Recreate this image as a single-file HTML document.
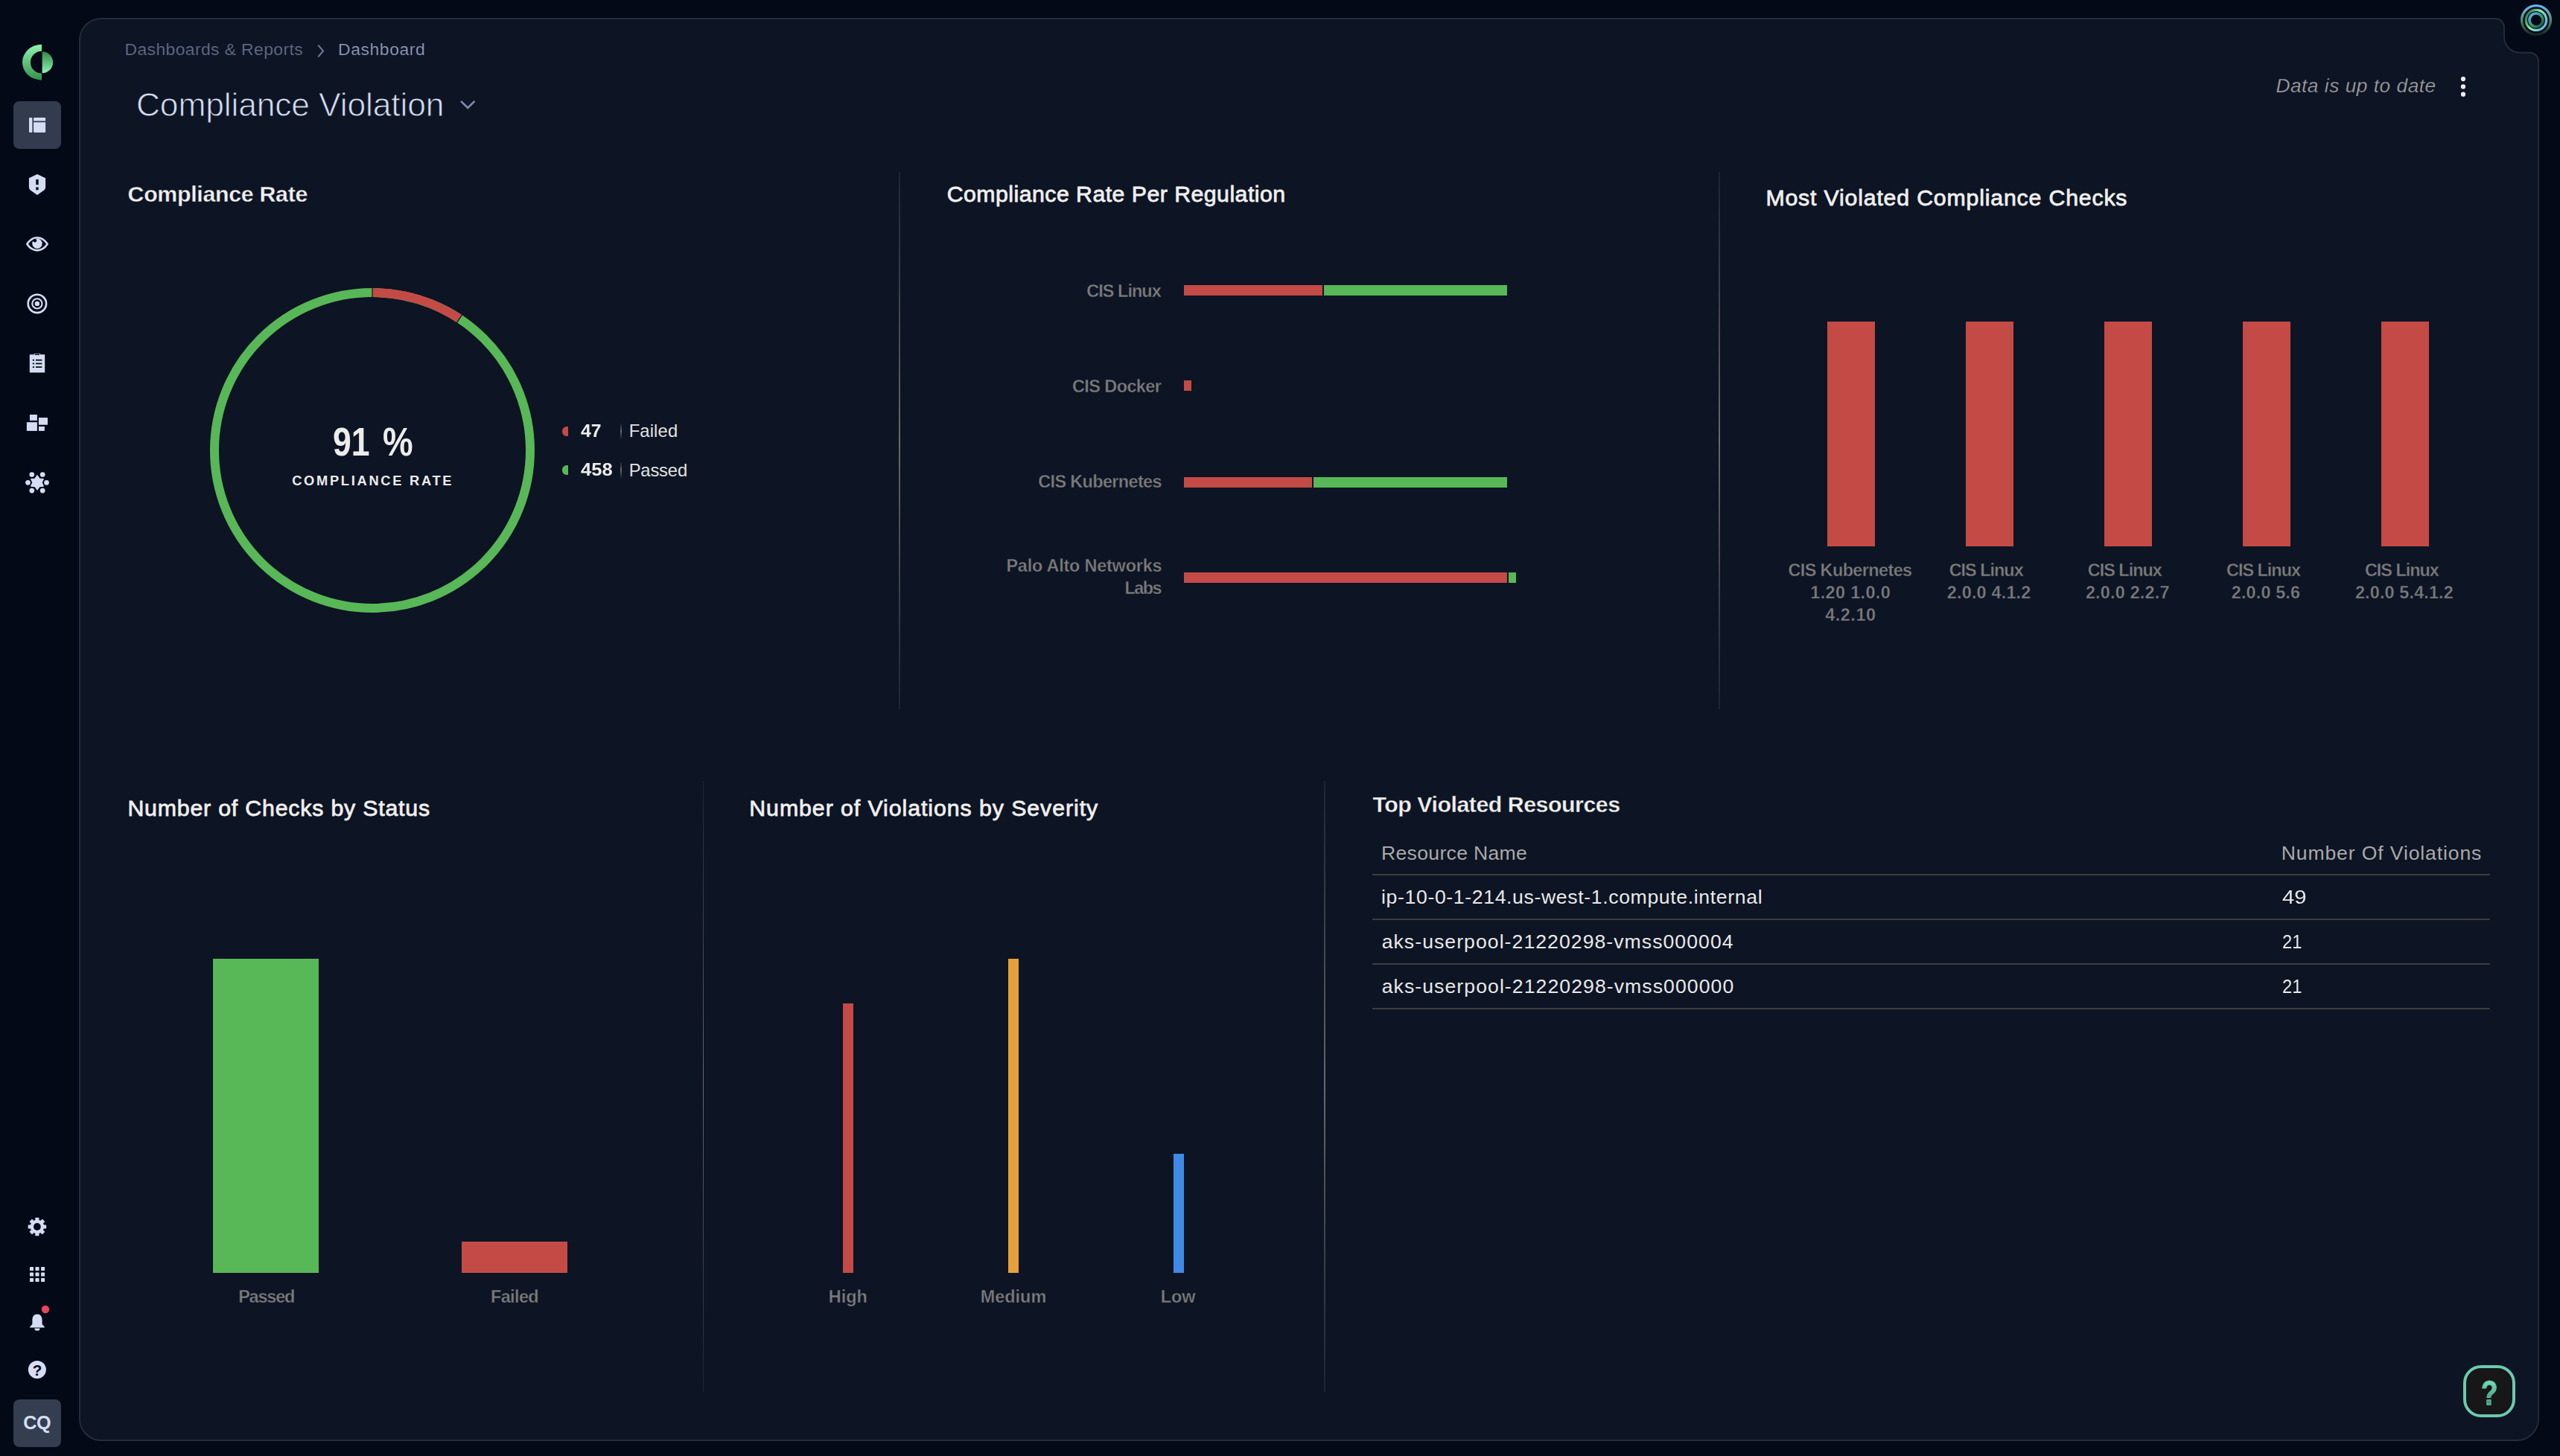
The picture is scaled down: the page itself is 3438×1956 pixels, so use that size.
<!DOCTYPE html>
<html lang="en"><head><meta charset="utf-8"><title>Compliance Violation - Dashboard</title>
<style>
html,body{margin:0;padding:0;}
body{width:3438px;height:1956px;overflow:hidden;position:relative;background:#040917;font-family:"Liberation Sans",Arial,sans-serif;}
.t{position:absolute;white-space:nowrap;margin:0;padding:0;}
.r{position:absolute;}
svg{position:absolute;overflow:visible;}
.abs{position:absolute;}
</style></head><body>
<svg width="3438" height="1956" viewBox="0 0 3438 1956" style="left:0;top:0"><path d="M135.95 25 H3351.7 A11.3 11.3 0 0 1 3363 36.4 V49.5 A21 21 0 0 0 3384 70.7 H3397.55 A11.5 11.5 0 0 1 3409.05 82.2 V1906 A29 29 0 0 1 3380.05 1935 H135.95 A29 29 0 0 1 106.95 1906 V54 A29 29 0 0 1 135.95 25 Z" fill="#0d1424" stroke="#252c3b" stroke-width="1.9"/></svg>
<svg width="110" height="1956" viewBox="0 0 110 1956" style="left:0;top:0"><defs><linearGradient id="lg1" x1="0" y1="0" x2="0" y2="1"><stop offset="0" stop-color="#8df5b0"/><stop offset="1" stop-color="#35914a"/></linearGradient><linearGradient id="lg2" x1="0" y1="0" x2="0" y2="1"><stop offset="0" stop-color="#2f8a45"/><stop offset="1" stop-color="#8df5b0"/></linearGradient></defs><path d="M56 59.7 A26 24 0 0 0 56 107.7 V98.7 A15 15 0 0 1 56 68.7 Z" fill="url(#lg1)"/><path d="M56.6 69.2 A14.5 14.5 0 0 1 56.6 98.2 Z" fill="url(#lg2)"/><rect x="18" y="136" width="64" height="64" rx="8" fill="#333b4e"/><g fill="#d4ddf3"><rect x="39" y="157.9" width="4.4" height="20.1" rx="1.2"/><path d="M46.3 157.9 H59.9 A1.2 1.2 0 0 1 61.1 159.1 V162.5 H45.1 V159.1 A1.2 1.2 0 0 1 46.3 157.9 Z"/><path d="M45.1 164.2 H61.1 V176.8 A1.2 1.2 0 0 1 59.9 178 H46.3 A1.2 1.2 0 0 1 45.1 176.8 Z"/></g><path d="M50 233.9 L61.1 239.3 V251.6 Q61.1 254 59.2 255.4 L50 261.9 L40.8 255.4 Q38.9 254 38.9 251.6 V239.3 Z M48.3 241 V248.3 H51.7 V241 Z M48.3 251.6 V255.3 H51.7 V251.6 Z" fill="#d4ddf3" fill-rule="evenodd"/><path d="M36.3 327.8 C40 322.2 44.5 319.2 50 319.2 S60 322.2 63.7 327.8 C60 333.4 55.5 336.4 50 336.4 S40 333.4 36.3 327.8 Z" fill="none" stroke="#d4ddf3" stroke-width="2.6" stroke-linejoin="round"/><circle cx="50" cy="327.2" r="6.7" fill="#d4ddf3"/><circle cx="46.8" cy="323.2" r="2.4" fill="#040917"/><g fill="none" stroke="#d4ddf3"><circle cx="49.9" cy="407.9" r="12.2" stroke-width="2.6"/><circle cx="49.9" cy="407.9" r="6.6" stroke-width="2.1"/></g><circle cx="49.9" cy="407.9" r="3.2" fill="#d4ddf3"/><path d="M39.8 476.3 H45.9 V475 H54.1 V476.3 H60.2 V500.6 H39.8 Z" fill="#d4ddf3"/><g fill="#040917"><rect x="46.8" y="475.6" width="6.4" height="1.4"/><rect x="43.8" y="482.9" width="2.3" height="1.7"/><rect x="48" y="482.9" width="8.4" height="1.7"/><rect x="43.8" y="487.6" width="2.3" height="1.7"/><rect x="48" y="487.6" width="8.4" height="1.7"/><rect x="43.8" y="492.3" width="2.3" height="1.7"/><rect x="48" y="492.3" width="8.4" height="1.7"/></g><g fill="#d4ddf3"><rect x="40" y="557" width="9.9" height="7.9"/><rect x="52" y="561.1" width="12" height="9.6"/><rect x="35.9" y="567.2" width="14" height="11.7"/><rect x="52" y="573" width="7.9" height="5.9"/></g><polygon points="50.00,638.70 53.05,643.02 58.31,643.50 56.10,648.30 58.31,653.10 53.05,653.58 50.00,657.90 46.95,653.58 41.69,653.10 43.90,648.30 41.69,643.50 46.95,643.02" fill="#d4ddf3" stroke="#d4ddf3" stroke-width="1.2" stroke-linejoin="round"/><circle cx="62.50" cy="648.30" r="3.35" fill="#d4ddf3"/><circle cx="37.50" cy="648.30" r="3.35" fill="#d4ddf3"/><circle cx="57.20" cy="659.10" r="3.35" fill="#d4ddf3"/><circle cx="42.80" cy="659.10" r="3.35" fill="#d4ddf3"/><circle cx="57.20" cy="637.50" r="3.35" fill="#d4ddf3"/><circle cx="42.80" cy="637.50" r="3.35" fill="#d4ddf3"/><polygon points="47.90,1639.64 47.96,1636.36 51.84,1636.36 51.90,1639.64 54.40,1640.67 56.76,1638.40 59.50,1641.14 57.23,1643.50 58.26,1646.00 61.54,1646.06 61.54,1649.94 58.26,1650.00 57.23,1652.50 59.50,1654.86 56.76,1657.60 54.40,1655.33 51.90,1656.36 51.84,1659.64 47.96,1659.64 47.90,1656.36 45.40,1655.33 43.04,1657.60 40.30,1654.86 42.57,1652.50 41.54,1650.00 38.26,1649.94 38.26,1646.06 41.54,1646.00 42.57,1643.50 40.30,1641.14 43.04,1638.40 45.40,1640.67" fill="#d4ddf3" stroke="#d4ddf3" stroke-width="1.2" stroke-linejoin="round"/><circle cx="49.9" cy="1648" r="8.9" fill="#d4ddf3"/><circle cx="49.9" cy="1648" r="4.9" fill="#040917"/><g fill="#d4ddf3"><rect x="40.0" y="1702.0" width="5" height="5" rx="0.6"/><rect x="47.5" y="1702.0" width="5" height="5" rx="0.6"/><rect x="55.1" y="1702.0" width="5" height="5" rx="0.6"/><rect x="40.0" y="1709.5" width="5" height="5" rx="0.6"/><rect x="47.5" y="1709.5" width="5" height="5" rx="0.6"/><rect x="55.1" y="1709.5" width="5" height="5" rx="0.6"/><rect x="40.0" y="1717.1" width="5" height="5" rx="0.6"/><rect x="47.5" y="1717.1" width="5" height="5" rx="0.6"/><rect x="55.1" y="1717.1" width="5" height="5" rx="0.6"/></g><path d="M50 1765.4 C45.6 1765.4 43.4 1768.8 43.4 1773.2 V1779 L40.2 1782.4 V1783.6 H59.8 V1782.4 L56.6 1779 V1773.2 C56.6 1768.8 54.4 1765.4 50 1765.4 Z M46.4 1784.6 A3.6 3.2 0 0 0 53.6 1784.6 Z" fill="#d4ddf3"/><circle cx="61" cy="1759" r="5.2" fill="#e8455a"/><circle cx="49.9" cy="1840" r="12" fill="#d4ddf3"/><rect x="18" y="1880" width="64" height="64" rx="8" fill="#343e50"/></svg>
<div class="t" style="left:43.76px;top:1827.99px;font-size:20.50px;line-height:25px;color:#040917;font-weight:700;">?</div>
<div class="t" style="left:31.27px;top:1896.26px;font-size:25.20px;line-height:30px;color:#d4ddf3;letter-spacing:-0.408px;font-weight:700;">CQ</div>
<div class="t" style="left:167.52px;top:52.76px;font-size:22.90px;line-height:27px;color:#616d88;letter-spacing:0.397px;-webkit-text-stroke:0.20px #0d1424;">Dashboards &amp; Reports</div>
<svg width="20" height="20" viewBox="0 0 20 20" style="left:420px;top:57px"><path d="M7.3 3.6 L14 11.45 L7.3 19.3" fill="none" stroke="#6f7c99" stroke-width="2"/></svg>
<div class="t" style="left:454.12px;top:52.76px;font-size:22.90px;line-height:27px;color:#909db8;letter-spacing:0.578px;-webkit-text-stroke:0.20px #0d1424;">Dashboard</div>
<div class="t" style="left:182.95px;top:113.51px;font-size:44.40px;line-height:53px;color:#d3dcf3;letter-spacing:-0.146px;-webkit-text-stroke:0.90px #0d1424;">Compliance Violation</div>
<svg width="30" height="20" viewBox="0 0 30 20" style="left:613px;top:130px"><path d="M6 5.8 L15.2 15 L24.4 5.8" fill="none" stroke="#7f8cae" stroke-width="2.6"/></svg>
<div class="t" style="left:3056.39px;top:98.88px;font-size:26.30px;line-height:32px;color:#9d9d9d;letter-spacing:0.514px;font-style:italic;-webkit-text-stroke:0.25px #0d1424;">Data is up to date</div>
<svg width="20" height="40" viewBox="0 0 20 40" style="left:3298px;top:96px"><g fill="#eeeeee"><circle cx="10" cy="10.1" r="3.1"/><circle cx="10" cy="20.4" r="3.1"/><circle cx="10" cy="30.7" r="3.1"/></g></svg>
<svg width="60" height="60" viewBox="-30 -30 60 60" style="left:3376.1px;top:-2.9px">
<defs><linearGradient id="rg1" x1="0" y1="0" x2="0" y2="1"><stop offset="0" stop-color="#6ab4f7"/><stop offset="0.45" stop-color="#4d9c7a"/><stop offset="1" stop-color="#14261f"/></linearGradient>
<linearGradient id="rg2" x1="0" y1="0.2" x2="1" y2="0.8"><stop offset="0" stop-color="#2d6d49"/><stop offset="0.45" stop-color="#86efac"/><stop offset="1" stop-color="#62b2f2"/></linearGradient>
<linearGradient id="rg3" x1="0" y1="0" x2="1" y2="1"><stop offset="0" stop-color="#62b2f2"/><stop offset="0.6" stop-color="#3f8a62"/><stop offset="1" stop-color="#1f4a35"/></linearGradient></defs>
<circle r="19.4" fill="none" stroke="url(#rg1)" stroke-width="3.3"/><circle r="13.7" fill="none" stroke="url(#rg2)" stroke-width="3.3"/><circle r="9" fill="none" stroke="url(#rg3)" stroke-width="3.6"/></svg>
<div class="r" style="left:1207.25px;top:230.50px;width:1.50px;height:722.00px;background:none;background:linear-gradient(to bottom,#1d2535 0%,#3a404b 22%,#6a6a68 50%,#3a404b 78%,#1d2535 100%);"></div>
<div class="r" style="left:2308.25px;top:230.50px;width:1.50px;height:722.00px;background:none;background:linear-gradient(to bottom,#1d2535 0%,#3a404b 22%,#6a6a68 50%,#3a404b 78%,#1d2535 100%);"></div>
<div class="r" style="left:943.65px;top:1049.00px;width:1.50px;height:820.50px;background:none;background:linear-gradient(to bottom,#1d2535 0%,#3a404b 22%,#6a6a68 50%,#3a404b 78%,#1d2535 100%);"></div>
<div class="r" style="left:1778.15px;top:1049.00px;width:1.50px;height:820.50px;background:none;background:linear-gradient(to bottom,#1d2535 0%,#3a404b 22%,#6a6a68 50%,#3a404b 78%,#1d2535 100%);"></div>
<div class="t" style="left:171.56px;top:242.80px;font-size:30.30px;line-height:36px;color:#efefef;letter-spacing:-0.290px;font-weight:700;-webkit-text-stroke:0.30px #0d1424;">Compliance Rate</div>
<svg width="460" height="460" viewBox="270 374.6 460 460" style="left:270px;top:374.6px"><circle cx="500" cy="604.6" r="212" fill="none" stroke="#58b757" stroke-width="12"/><path d="M500 392.6 A212 212 0 0 1 617.01 427.82" fill="none" stroke="#c44a46" stroke-width="12"/><line x1="500.00" y1="399.60" x2="500.00" y2="385.60" stroke="#0d1424" stroke-width="1.2"/><line x1="613.15" y1="433.65" x2="620.87" y2="421.98" stroke="#0d1424" stroke-width="1.2"/></svg>
<div class="t" style="left:447.35px;top:561.76px;font-size:53.20px;line-height:64px;color:#ececec;font-weight:700;transform:scaleX(0.8379);transform-origin:0 0;">91</div>
<div class="t" style="left:514.46px;top:561.76px;font-size:53.20px;line-height:64px;color:#ececec;font-weight:700;transform:scaleX(0.8592);transform-origin:0 0;">%</div>
<div class="t" style="left:392.15px;top:635.16px;font-size:18.30px;line-height:22px;color:#ececec;letter-spacing:2.715px;font-weight:700;">COMPLIANCE RATE</div>
<div class="abs" style="left:754.6px;top:572.8px;width:8.4px;height:12.8px;overflow:hidden"><div style="width:12.8px;height:12.8px;border-radius:50%;background:#c44a46"></div></div>
<div class="t" style="left:779.92px;top:565.09px;font-size:23.40px;line-height:28px;color:#ececec;font-weight:700;transform:scaleX(1.0590);transform-origin:0 0;">47</div>
<div class="r" style="left:833.40px;top:567.70px;width:1.30px;height:23.00px;background:none;background:linear-gradient(to bottom,rgba(110,110,110,0),rgba(110,110,110,.95) 50%,rgba(110,110,110,0));"></div>
<div class="t" style="left:844.65px;top:564.45px;font-size:23.80px;line-height:29px;color:#e2e2e2;letter-spacing:0.132px;">Failed</div>
<div class="abs" style="left:754.6px;top:625.0px;width:8.4px;height:12.8px;overflow:hidden"><div style="width:12.8px;height:12.8px;border-radius:50%;background:#58b757"></div></div>
<div class="t" style="left:779.91px;top:617.29px;font-size:23.40px;line-height:28px;color:#ececec;font-weight:700;transform:scaleX(1.0930);transform-origin:0 0;">458</div>
<div class="r" style="left:833.40px;top:619.90px;width:1.30px;height:23.00px;background:none;background:linear-gradient(to bottom,rgba(110,110,110,0),rgba(110,110,110,.95) 50%,rgba(110,110,110,0));"></div>
<div class="t" style="left:844.65px;top:616.65px;font-size:23.80px;line-height:29px;color:#e2e2e2;letter-spacing:-0.180px;">Passed</div>
<div class="t" style="left:1271.66px;top:243.40px;font-size:30.30px;line-height:36px;color:#efefef;letter-spacing:0.456px;-webkit-text-stroke:0.80px #efefef;">Compliance Rate Per Regulation</div>
<div class="r" style="left:1589.90px;top:382.60px;width:186.40px;height:14.60px;background:#c44a46;"></div>
<div class="r" style="left:1777.80px;top:382.60px;width:246.40px;height:14.60px;background:#58b757;"></div>
<div class="t" style="left:1459.34px;top:376.89px;font-size:23.40px;line-height:28px;color:#7b7b7b;letter-spacing:-0.934px;font-weight:700;-webkit-text-stroke:0.35px #0d1424;">CIS Linux</div>
<div class="r" style="left:1589.90px;top:510.70px;width:10.50px;height:14.60px;background:#c44a46;"></div>
<div class="t" style="left:1439.94px;top:504.89px;font-size:23.40px;line-height:28px;color:#7b7b7b;letter-spacing:-0.538px;font-weight:700;-webkit-text-stroke:0.35px #0d1424;">CIS Docker</div>
<div class="r" style="left:1589.90px;top:640.60px;width:172.30px;height:14.60px;background:#c44a46;"></div>
<div class="r" style="left:1763.90px;top:640.60px;width:260.30px;height:14.60px;background:#58b757;"></div>
<div class="t" style="left:1394.24px;top:632.89px;font-size:23.40px;line-height:28px;color:#7b7b7b;letter-spacing:-0.610px;font-weight:700;-webkit-text-stroke:0.35px #0d1424;">CIS Kubernetes</div>
<div class="r" style="left:1589.90px;top:768.70px;width:434.30px;height:14.60px;background:#c44a46;"></div>
<div class="r" style="left:2025.90px;top:768.70px;width:10.10px;height:14.60px;background:#58b757;"></div>
<div class="t" style="left:1351.43px;top:746.19px;font-size:23.40px;line-height:28px;color:#7b7b7b;letter-spacing:-0.191px;font-weight:700;-webkit-text-stroke:0.35px #0d1424;">Palo Alto Networks</div>
<div class="t" style="left:1510.53px;top:776.19px;font-size:23.40px;line-height:28px;color:#7b7b7b;letter-spacing:-1.531px;font-weight:700;-webkit-text-stroke:0.35px #0d1424;">Labs</div>
<div class="t" style="left:2371.41px;top:247.80px;font-size:30.30px;line-height:36px;color:#efefef;letter-spacing:0.809px;-webkit-text-stroke:0.80px #efefef;">Most Violated Compliance Checks</div>
<div class="r" style="left:2453.80px;top:431.90px;width:64.20px;height:302.10px;background:#c44a46;"></div>
<div class="t" style="left:2401.44px;top:752.19px;font-size:23.40px;line-height:28px;color:#7b7b7b;letter-spacing:-0.579px;font-weight:700;-webkit-text-stroke:0.35px #0d1424;">CIS Kubernetes</div>
<div class="t" style="left:2431.33px;top:782.09px;font-size:23.40px;line-height:28px;color:#7b7b7b;letter-spacing:0.372px;font-weight:700;-webkit-text-stroke:0.35px #0d1424;">1.20 1.0.0</div>
<div class="t" style="left:2451.25px;top:811.99px;font-size:23.40px;line-height:28px;color:#7b7b7b;letter-spacing:0.531px;font-weight:700;-webkit-text-stroke:0.35px #0d1424;">4.2.10</div>
<div class="r" style="left:2639.80px;top:431.90px;width:64.20px;height:302.10px;background:#c44a46;"></div>
<div class="t" style="left:2617.69px;top:752.19px;font-size:23.40px;line-height:28px;color:#7b7b7b;letter-spacing:-0.984px;font-weight:700;-webkit-text-stroke:0.35px #0d1424;">CIS Linux</div>
<div class="t" style="left:2614.79px;top:782.09px;font-size:23.40px;line-height:28px;color:#7b7b7b;letter-spacing:0.196px;font-weight:700;-webkit-text-stroke:0.35px #0d1424;">2.0.0 4.1.2</div>
<div class="r" style="left:2825.90px;top:431.90px;width:64.20px;height:302.10px;background:#c44a46;"></div>
<div class="t" style="left:2803.79px;top:752.19px;font-size:23.40px;line-height:28px;color:#7b7b7b;letter-spacing:-0.984px;font-weight:700;-webkit-text-stroke:0.35px #0d1424;">CIS Linux</div>
<div class="t" style="left:2800.89px;top:782.09px;font-size:23.40px;line-height:28px;color:#7b7b7b;letter-spacing:0.205px;font-weight:700;-webkit-text-stroke:0.35px #0d1424;">2.0.0 2.2.7</div>
<div class="r" style="left:3012.10px;top:431.90px;width:64.20px;height:302.10px;background:#c44a46;"></div>
<div class="t" style="left:2989.99px;top:752.19px;font-size:23.40px;line-height:28px;color:#7b7b7b;letter-spacing:-0.984px;font-weight:700;-webkit-text-stroke:0.35px #0d1424;">CIS Linux</div>
<div class="t" style="left:2996.84px;top:782.09px;font-size:23.40px;line-height:28px;color:#7b7b7b;letter-spacing:0.135px;font-weight:700;-webkit-text-stroke:0.35px #0d1424;">2.0.0 5.6</div>
<div class="r" style="left:3198.00px;top:431.90px;width:64.20px;height:302.10px;background:#c44a46;"></div>
<div class="t" style="left:3175.89px;top:752.19px;font-size:23.40px;line-height:28px;color:#7b7b7b;letter-spacing:-0.984px;font-weight:700;-webkit-text-stroke:0.35px #0d1424;">CIS Linux</div>
<div class="t" style="left:3162.94px;top:782.09px;font-size:23.40px;line-height:28px;color:#7b7b7b;letter-spacing:0.145px;font-weight:700;-webkit-text-stroke:0.35px #0d1424;">2.0.0 5.4.1.2</div>
<div class="t" style="left:171.41px;top:1068.40px;font-size:30.30px;line-height:36px;color:#efefef;letter-spacing:0.805px;-webkit-text-stroke:0.80px #efefef;">Number of Checks by Status</div>
<div class="r" style="left:285.90px;top:1287.80px;width:142.30px;height:422.20px;background:#58b757;"></div>
<div class="r" style="left:620.00px;top:1667.70px;width:142.00px;height:42.30px;background:#c44a46;"></div>
<div class="t" style="left:320.18px;top:1727.89px;font-size:23.40px;line-height:28px;color:#7b7b7b;letter-spacing:-1.151px;font-weight:700;-webkit-text-stroke:0.35px #0d1424;">Passed</div>
<div class="t" style="left:658.93px;top:1727.89px;font-size:23.40px;line-height:28px;color:#7b7b7b;letter-spacing:-0.582px;font-weight:700;-webkit-text-stroke:0.35px #0d1424;">Failed</div>
<div class="t" style="left:1006.31px;top:1068.40px;font-size:30.30px;line-height:36px;color:#efefef;letter-spacing:0.933px;-webkit-text-stroke:0.80px #efefef;">Number of Violations by Severity</div>
<div class="r" style="left:1131.70px;top:1348.10px;width:14.40px;height:361.90px;background:#c44a46;"></div>
<div class="r" style="left:1354.00px;top:1287.80px;width:14.40px;height:422.20px;background:#e5a03c;"></div>
<div class="r" style="left:1575.80px;top:1549.90px;width:14.40px;height:160.10px;background:#3f8ae6;"></div>
<div class="t" style="left:1112.75px;top:1727.89px;font-size:23.40px;line-height:28px;color:#7b7b7b;font-weight:700;-webkit-text-stroke:0.35px #0d1424;">High</div>
<div class="t" style="left:1316.84px;top:1727.89px;font-size:23.40px;line-height:28px;color:#7b7b7b;font-weight:700;-webkit-text-stroke:0.35px #0d1424;">Medium</div>
<div class="t" style="left:1558.70px;top:1727.89px;font-size:23.40px;line-height:28px;color:#7b7b7b;font-weight:700;-webkit-text-stroke:0.35px #0d1424;">Low</div>
<div class="t" style="left:1843.56px;top:1062.80px;font-size:30.30px;line-height:36px;color:#efefef;letter-spacing:-0.471px;font-weight:700;-webkit-text-stroke:0.30px #0d1424;">Top Violated Resources</div>
<div class="t" style="left:1855.02px;top:1129.88px;font-size:26.60px;line-height:32px;color:#a9a9a9;letter-spacing:0.298px;">Resource Name</div>
<div class="t" style="left:3063.72px;top:1129.98px;font-size:26.60px;line-height:32px;color:#a9a9a9;letter-spacing:0.864px;">Number Of Violations</div>
<div class="r" style="left:1843.20px;top:1174.35px;width:1500.80px;height:1.50px;background:#3d3d3b;"></div>
<div class="r" style="left:1843.20px;top:1234.05px;width:1500.80px;height:1.50px;background:#3d3d3b;"></div>
<div class="r" style="left:1843.20px;top:1294.15px;width:1500.80px;height:1.50px;background:#3d3d3b;"></div>
<div class="r" style="left:1843.20px;top:1354.15px;width:1500.80px;height:1.50px;background:#3d3d3b;"></div>
<div class="t" style="left:1855.02px;top:1188.98px;font-size:26.60px;line-height:32px;color:#e9e9e9;letter-spacing:0.647px;">ip-10-0-1-214.us-west-1.compute.internal</div>
<div class="t" style="left:3065.23px;top:1188.98px;font-size:26.60px;line-height:32px;color:#e9e9e9;transform:scaleX(1.1004);transform-origin:0 0;">49</div>
<div class="t" style="left:1855.67px;top:1248.88px;font-size:26.60px;line-height:32px;color:#e9e9e9;letter-spacing:1.059px;">aks-userpool-21220298-vmss000004</div>
<div class="t" style="left:3064.70px;top:1248.88px;font-size:26.60px;line-height:32px;color:#e9e9e9;transform:scaleX(0.8979);transform-origin:0 0;">21</div>
<div class="t" style="left:1855.67px;top:1308.98px;font-size:26.60px;line-height:32px;color:#e9e9e9;letter-spacing:1.080px;">aks-userpool-21220298-vmss000000</div>
<div class="t" style="left:3064.70px;top:1308.98px;font-size:26.60px;line-height:32px;color:#e9e9e9;transform:scaleX(0.8979);transform-origin:0 0;">21</div>
<div class="abs" style="left:3308px;top:1834px;width:62px;height:62px;border:4px solid #6ccaab;border-radius:24px;background:#0d1424"><div style="position:absolute;left:1.2px;top:1.2px;right:1.2px;bottom:1.2px;border-radius:19px;background:#171717"></div></div>
<div class="t" style="left:3332.12px;top:1843.88px;font-size:46.20px;line-height:55px;color:#62c3a3;font-weight:700;transform:scaleX(0.7935);transform-origin:0 0;background:linear-gradient(#76dfbb 20%,#3f947a 72%,#5cc3a2 80%);-webkit-background-clip:text;background-clip:text;color:transparent;-webkit-text-stroke:1.1px #5ab99b;">?</div>
</body></html>
